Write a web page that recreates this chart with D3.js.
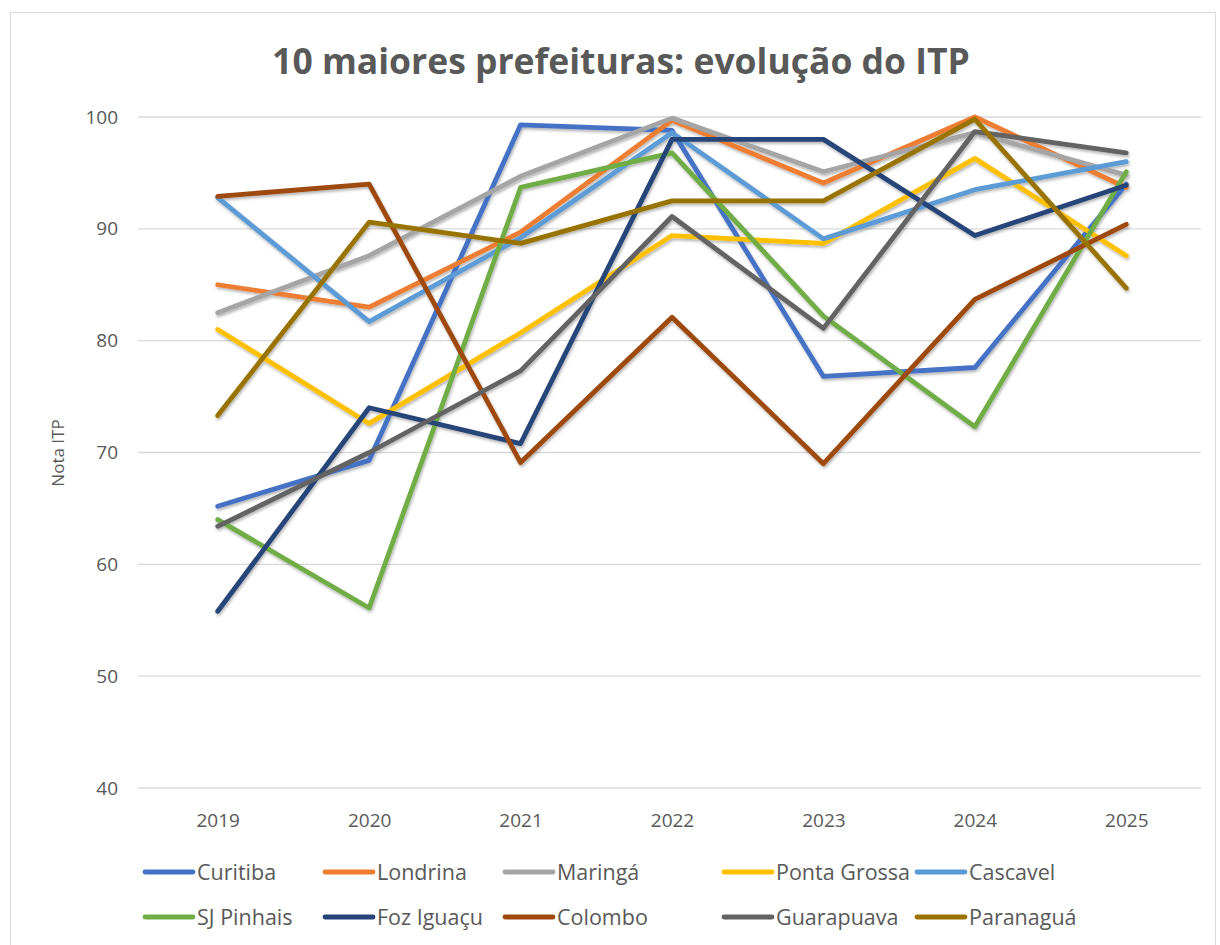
<!DOCTYPE html>
<html><head><meta charset="utf-8">
<script src="https://cdn.jsdelivr.net/npm/d3@7"></script>
<style>body{margin:0;background:#fff;} svg{display:block;font-family:"Open Sans",sans-serif;}</style>
</head><body><svg id="c" width="1220" height="945"></svg>
<script>
const years = ["2019","2020","2021","2022","2023","2024","2025"];
const seriesNames = ["Curitiba","Londrina","Maringá","Ponta Grossa","Cascavel","SJ Pinhais","Foz Iguaçu","Colombo","Guarapuava","Paranaguá"];
const curitiba    = [65.2, 69.3, 99.3, 98.8, 76.8, 77.6, 94.0];
const londrina    = [85.0, 83.0, 89.7, 99.7, 94.1, 100.0, 93.7];
const maringa     = [82.5, 87.6, 94.7, 99.9, 95.1, 98.6, 94.8];
const pontaGrossa = [81.0, 72.6, 80.7, 89.4, 88.7, 96.3, 87.6];
const cascavel    = [92.8, 81.7, 89.2, 98.6, 89.1, 93.5, 96.0];
const sjPinhais   = [64.0, 56.1, 93.7, 96.8, 82.2, 72.3, 95.1];
const fozIguacu   = [55.8, 74.0, 70.8, 98.0, 98.0, 89.4, 93.9];
const colombo     = [92.9, 94.0, 69.1, 82.1, 69.0, 83.7, 90.4];
const guarapuava  = [63.4, 70.0, 77.3, 91.1, 81.1, 98.7, 96.8];
const paranagua   = [73.3, 90.6, 88.7, 92.5, 92.5, 99.8, 84.7];
const yTicks = [40, 50, 60, 70, 80, 90, 100];
const colors = ["#4472C4","#ED7D31","#A5A5A5","#FFC000","#5B9BD5","#70AD47","#264478","#9E480E","#636363","#997300"];

const allValues = [curitiba, londrina, maringa, pontaGrossa, cascavel, sjPinhais, fozIguacu, colombo, guarapuava, paranagua];
const series = seriesNames.map((n,i)=>({name:n, values:allValues[i], color:colors[i]}));

const svg = d3.select("#c");
const defs = svg.append("defs");
const f = defs.append("filter").attr("id","sh").attr("x","-10%").attr("y","-10%").attr("width","120%").attr("height","120%");
f.append("feDropShadow").attr("dx",1).attr("dy",2).attr("stdDeviation",1.6).attr("flood-color","#000").attr("flood-opacity",0.3);

svg.append("rect").attr("x",10.5).attr("y",12.5).attr("width",1205).attr("height",940).attr("fill","#fff").attr("stroke","#d9d9d9");

const x = d3.scalePoint().domain(years).range([142,1202]).padding(0.5);
const y = d3.scaleLinear().domain([40,100]).range([788,117]);

// gridlines
svg.append("g").selectAll("line").data(yTicks).join("line")
  .attr("x1",138).attr("x2",1201).attr("y1",d=>y(d)).attr("y2",d=>y(d))
  .attr("stroke","#d9d9d9").attr("stroke-width",1.3);

// y axis labels
const yAxis = svg.append("g").attr("transform","translate(118,0)")
  .call(d3.axisLeft(y).tickValues(yTicks).tickSize(0).tickPadding(0));
yAxis.select(".domain").remove();
yAxis.selectAll("text").attr("font-size",19).attr("fill","#595959").attr("font-family","Open Sans, sans-serif");

// x axis labels
const xAxis = svg.append("g").attr("transform","translate(0,813)")
  .call(d3.axisBottom(x).tickSize(0).tickPadding(0));
xAxis.select(".domain").remove();
xAxis.selectAll("text").attr("font-size",19).attr("fill","#595959").attr("font-family","Open Sans, sans-serif");

// title
svg.append("text").attr("x",621).attr("y",74).attr("text-anchor","middle")
  .attr("font-size",35.5).attr("font-weight","bold").attr("fill","#595959").text("10 maiores prefeituras: evolução do ITP");

// y axis title
svg.append("text").attr("transform","translate(64,453) rotate(-90)").attr("text-anchor","middle")
  .attr("font-size",17).attr("fill","#595959").text("Nota ITP");

// lines
const line = d3.line().x((d,i)=>x(years[i])).y(d=>y(d));
svg.append("g").attr("filter","url(#sh)").selectAll("path").data(series).join("path")
  .attr("d",d=>line(d.values)).attr("fill","none").attr("stroke",d=>d.color)
  .attr("stroke-width",4.8).attr("stroke-linecap","round").attr("stroke-linejoin","round");

// legend
const colX = [145, 325, 505, 724, 917];
const rowY = [872, 917];
const lg = svg.append("g").selectAll("g").data(series).join("g")
  .attr("transform",(d,i)=>`translate(${colX[i%5]},${rowY[Math.floor(i/5)]})`);
lg.append("line").attr("x1",0).attr("x2",48).attr("y1",0).attr("y2",0)
  .attr("stroke",d=>d.color).attr("stroke-width",4.8).attr("stroke-linecap","round");
lg.append("text").attr("x",52).attr("y",7.5).attr("font-size",21.5).attr("fill","#595959").text(d=>d.name);
</script></body></html>
